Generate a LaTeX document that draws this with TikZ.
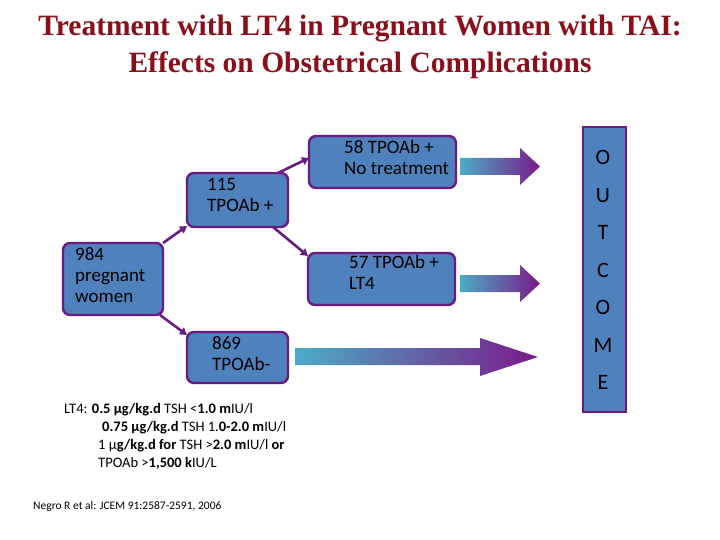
\documentclass[tikz,border=0pt]{standalone}
\usepackage{fontspec}
\setmainfont{Carlito}
\newfontfamily\titlefont{Liberation Serif}
\usetikzlibrary{arrows.meta}
\definecolor{boxblue}{HTML}{4F81BD}
\definecolor{boxpurple}{HTML}{6A1B82}
\definecolor{titlered}{HTML}{8B0F1A}
\definecolor{fadecyan}{HTML}{4BACC6}
\definecolor{fadepurple}{HTML}{7A1A88}
\begin{document}
\begin{tikzpicture}[x=1pt,y=-1pt,
  box/.style={draw=boxpurple,line width=2.4pt,fill=boxblue,rounded corners=7pt,inner sep=0pt},
  conn/.style={draw=boxpurple,line width=2.6pt,-{Triangle[length=7pt,width=8pt]}},
  lbl/.style={anchor=north west,align=left,font=\fontsize{19}{21}\selectfont,inner sep=0pt}]
\useasboundingbox (0,0) rectangle (720,540);
\node[font=\titlefont\bfseries\fontsize{29.5}{37}\selectfont,text=titlered,align=center] (title) at (360,47) {Treatment with LT4 in Pregnant Women with TAI:\\Effects on Obstetrical Complications};
% boxes
\path[box] (63,243) rectangle (163,315); \coordinate (a1) at (163,243); \coordinate (a2) at (160,315);
\node[lbl] (t984) at (75,247) {984\\pregnant\\women};
\path[box] (187,173) rectangle (288,227); \coordinate (b1) at (187,226); \coordinate (b2) at (278,173); \coordinate (b3) at (273,227);
\node[lbl] (t115) at (207,178) {115\\TPOAb +};
\path[box] (309,136) rectangle (456,188); \coordinate (c1) at (309,158);
\node[lbl] (t58) at (344,140) {58 TPOAb +\\No treatment};
\path[box] (308,253) rectangle (455,305); \coordinate (d1) at (308,256);
\node[lbl] (t57) at (349,255) {57 TPOAb +\\LT4};
\path[box] (187,332) rectangle (288,383); \coordinate (e1) at (187,335);
\node[lbl] (t869) at (212,336) {869\\TPOAb-};
\draw[conn] (a1) -- (b1);
\draw[conn] (a2) -- (e1);
\draw[conn] (b2) -- (c1);
\draw[conn] (b3) -- (d1);
% outcome
\draw[draw=boxpurple,line width=2.4pt,fill=boxblue] (583,127) rectangle (626,412);
\node[font=\fontsize{22}{37.5}\selectfont,align=center,inner sep=0pt] (outc) at (603,270) {O\\U\\T\\C\\O\\M\\E};
% fade arrows
\shade[left color=fadecyan,right color=fadepurple] (460,158) -- (520,158) -- (520,148) -- (540,166.5) -- (520,185) -- (520,175) -- (460,175) -- cycle;
\shade[left color=fadecyan,right color=fadepurple] (460,275) -- (520,275) -- (520,265) -- (540,283.5) -- (520,302) -- (520,292) -- (460,292) -- cycle;
\shade[left color=fadecyan,right color=fadepurple] (295,348) -- (480,348) -- (480,338) -- (538,357) -- (480,376) -- (480,365) -- (295,365) -- cycle;
% notes
\node[anchor=north west,align=left,inner sep=0pt,font=\fontsize{14.5}{18}\selectfont] (note) at (64,403) {LT4: \textbf{0.5 \textmu g/kg.d} TSH {<}\textbf{1.0 m}IU/l\\
\hspace*{38pt}\textbf{0.75 \textmu g/kg.d} TSH 1.\textbf{0-2.0 m}IU/l\\
\hspace*{34pt}1 \textmu\textbf{g/kg.d for} TSH {>}\textbf{2.0 m}IU/l \textbf{or}\\
\hspace*{34pt}TPOAb {>}\textbf{1,500 k}IU/L};
\node[anchor=north west,inner sep=0pt,font=\fontsize{11.5}{13}\selectfont] (ref) at (33,501) {Negro R et al: JCEM 91:2587-2591, 2006};
\end{tikzpicture}
\end{document}
